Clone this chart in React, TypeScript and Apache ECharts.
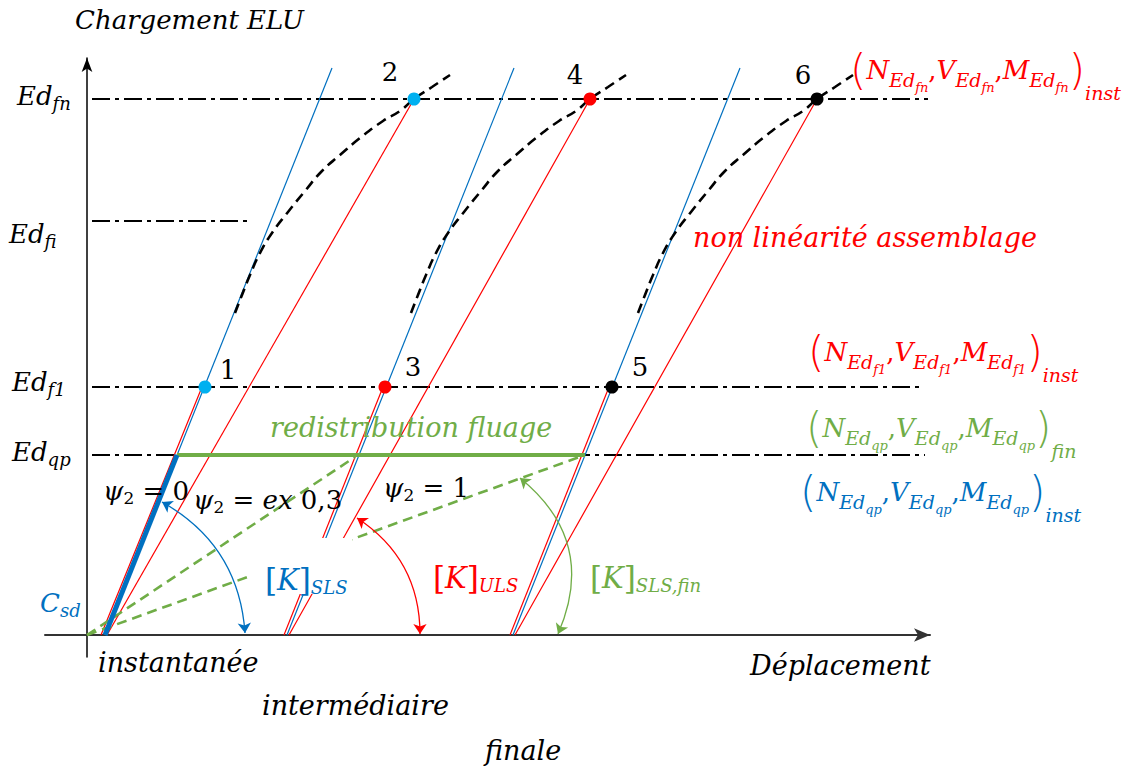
import React, { useEffect, useRef } from "react";
import * as echarts from "echarts";

// ---------- data (displacement / load units, origin at the axes crossing) ----------
const levelNames = ["qp", "f1", "fi", "fn"];
const levelValues = [180, 248, 414, 536];
const levelLineStart = [5, 5, 5, 5];
const levelLineEnd = [838, 833, 163, 841];

// stages: instantanée, intermédiaire, finale
const blueStiffLines = [
  [[18, 0], [245, 567]],
  [[200, 0], [427, 567]],
  [[426, 0], [653, 567]],
];
const redParallelLines = [
  [[14, 0], [115, 248]],
  [[197, 0], [296, 248]],
  [[423, 0], [522, 248]],
];
const redSecantLines = [
  [[20, 0], [327, 536]],
  [[202, 0], [503, 536]],
  [[428, 0], [730, 536]],
];
const thickBlueLine = [[18, 0], [90, 180]];
const creepLine = [[90, 180], [498, 180]];
const greenDashA = [[0, 0], [268, 178]];
const greenDashB = [[0, 0], [498, 180]];

const curve1 = [[148, 322], [155, 340], [163, 360], [173, 382], [185, 402], [201, 423], [218, 444], [235, 464], [253, 480], [273, 497], [296, 514], [313, 524], [327, 536], [345, 548], [363, 560]];
const curve2 = [[324, 322], [331, 340], [339, 360], [349, 382], [361, 402], [377, 423], [394, 444], [411, 464], [429, 480], [449, 497], [472, 514], [489, 524], [503, 536], [521, 548], [539, 560]];
const curve3 = [[551, 322], [558, 340], [566, 360], [576, 382], [588, 402], [604, 423], [621, 444], [638, 464], [656, 480], [676, 497], [699, 514], [716, 524], [730, 536], [748, 548], [766, 560]];

const pointNames = ["1", "2", "3", "4", "5", "6"];
const pointX = [118, 327, 298, 503, 525, 730];
const pointY = [248, 536, 248, 536, 248, 536];
const pointColors = ["#00b0f0", "#00b0f0", "#ff0000", "#ff0000", "#000000", "#000000"];
const pointLabelOffsets = [[23, -17], [-24, -27], [28, -20], [-15, -24], [28, -20], [-14, -24]];

const arcSLS = [[75, 133], [158, 2]];
const arcULS = [[270, 117], [333, 1]];
const arcSLSfin = [[433, 157], [471, 1]];

const BLUE = "#0070c0";
const RED = "#ff0000";
const GREEN = "#70ad47";
const SERIF = "DejaVu Serif";

function richFor(color: string) {
  const base = { fill: color, fontFamily: SERIF, verticalAlign: "middle" };
  return {
    i: { ...base, fontSize: 26, fontStyle: "italic" },
    w: { ...base, fontSize: 27, fontStyle: "italic" },
    r: { ...base, fontSize: 26 },
    k: { ...base, fontSize: 29, fontStyle: "italic" },
    b: { ...base, fontSize: 31 },
    s: { ...base, fontSize: 18, fontStyle: "italic", padding: [15, 0, 0, 0] },
    rs: { ...base, fontSize: 17, padding: [14, 0, 0, 0] },
    t: { ...base, fontSize: 19, fontStyle: "italic", padding: [20, 0, 0, 0] },
    tt: { ...base, fontSize: 13, fontStyle: "italic", padding: [34, 0, 0, 0] },
    p: { ...base, fontSize: 42, fontFamily: "DejaVu Sans", fontWeight: "lighter" },
    ti: { ...base, fontSize: 19, fontStyle: "italic", padding: [46, 0, 0, 0] },
  };
}

function tuple(sub: string, tail: string) {
  return `{p|(}{i|N}{t|Ed}{tt|${sub}}{r|,}{i|V}{t|Ed}{tt|${sub}}{r|,}{i|M}{t|Ed}{tt|${sub}}{p|)}{ti|${tail}}`;
}

type T = { x: number; y: number; text: string; color: string };
const texts: T[] = [
  { x: 75, y: 20, text: "{i|Chargement ELU}", color: "#000" },
  { x: 17, y: 96, text: "{i|Ed}{s|fn}", color: "#000" },
  { x: 9, y: 234, text: "{i|Ed}{s|fi}", color: "#000" },
  { x: 12, y: 382, text: "{i|Ed}{s|f1}", color: "#000" },
  { x: 12, y: 452, text: "{i|Ed}{s|qp}", color: "#000" },
  { x: 850, y: 70, text: tuple("fn", "inst"), color: RED },
  { x: 808, y: 352, text: tuple("f1", "inst"), color: RED },
  { x: 806, y: 428, text: tuple("qp", "fin"), color: GREEN },
  { x: 800, y: 492, text: tuple("qp", "inst"), color: BLUE },
  { x: 693, y: 237, text: "{w|non linéarité assemblage}", color: RED },
  { x: 270, y: 427, text: "{w|redistribution fluage}", color: GREEN },
  { x: 103, y: 491, text: "{i|ψ}{rs|2}{r| = 0}", color: "#000" },
  { x: 193, y: 500, text: "{i|ψ}{rs|2}{r| = }{i|ex}{r| 0,3}", color: "#000" },
  { x: 383, y: 488, text: "{i|ψ}{rs|2}{r| = 1}", color: "#000" },
  { x: 265, y: 580, text: "{b|[}{k|K}{b|]}{s|SLS}", color: BLUE },
  { x: 433, y: 578, text: "{b|[}{k|K}{b|]}{s|ULS}", color: RED },
  { x: 590, y: 578, text: "{b|[}{k|K}{b|]}{s|SLS,fin}", color: GREEN },
  { x: 40, y: 603, text: "{i|C}{s|sd}", color: BLUE },
  { x: 98, y: 662, text: "{w|instantanée}", color: "#000" },
  { x: 262, y: 705, text: "{w|intermédiaire}", color: "#000" },
  { x: 485, y: 750, text: "{w|finale}", color: "#000" },
  { x: 750, y: 665, text: "{w|Déplacement}", color: "#000" },
];

function seg(data: number[][], color: string, width: number, type: any, z = 2, smooth: any = false) {
  return {
    type: "line",
    data,
    symbol: "none",
    smooth,
    silent: true,
    z,
    lineStyle: { color, width, type },
  };
}

export default function App() {
  const ref = useRef<HTMLDivElement>(null);
  useEffect(() => {
    document.body.style.margin = "0";
    const chart = echarts.init(ref.current!, null, { renderer: "svg" });
    const series: any[] = [];
    const dashDot = [18, 5, 4, 5];
    levelValues.forEach((v, i) => {
      series.push(seg([[levelLineStart[i], v], [levelLineEnd[i], v]], "#000", 2, dashDot, 1));
    });
    redParallelLines.forEach((l) => series.push(seg(l, RED, 1.2, "solid", 2)));
    blueStiffLines.forEach((l) => series.push(seg(l, BLUE, 1.2, "solid", 3)));
    redSecantLines.forEach((l) => series.push(seg(l, RED, 1.2, "solid", 2)));
    [curve1, curve2, curve3].forEach((c) => series.push(seg(c, "#000", 2.6, [10, 6], 3, 0.5)));
    series.push(seg(greenDashA, GREEN, 2.6, [10, 6], 3));
    series.push(seg(greenDashB, GREEN, 2.6, [10, 6], 3));
    series.push(seg(creepLine, GREEN, 4, "solid", 4));
    series.push(seg(thickBlueLine, BLUE, 5, "solid", 4));
    series.push({
      type: "lines",
      coordinateSystem: "cartesian2d",
      symbol: ["arrow", "arrow"],
      symbolSize: 10,
      silent: true,
      z: 5,
      data: [
        { coords: arcSLS, lineStyle: { color: BLUE, width: 1.3, opacity: 1, curveness: 0.27 } },
        { coords: arcULS, lineStyle: { color: RED, width: 1.3, opacity: 1, curveness: 0.27 } },
        { coords: arcSLSfin, lineStyle: { color: GREEN, width: 1.3, opacity: 1, curveness: 0.38 } },
      ],
    });
    series.push({
      type: "scatter",
      symbolSize: 13,
      z: 6,
      silent: true,
      data: pointNames.map((n, i) => ({
        name: n,
        value: [pointX[i], pointY[i]],
        itemStyle: { color: pointColors[i], opacity: 1 },
        label: { offset: pointLabelOffsets[i] },
      })),
      label: {
        show: true,
        position: "inside",
        formatter: "{b}",
        color: "#000",
        fontSize: 26,
        fontFamily: SERIF,
      },
    });

    const graphic: any[] = [
      { type: "rect", z: 40, shape: { x: 252, y: 538, width: 100, height: 56 }, style: { fill: "#fff" } },
      ...texts.map((t) => ({
        type: "text",
        z: 50,
        x: t.x,
        y: t.y,
        style: { text: t.text, rich: richFor(t.color), align: "left", verticalAlign: "middle" },
      })),
    ];

    chart.setOption({
      animation: false,
      backgroundColor: "#fff",
      grid: { left: 45, right: 206, top: 58, bottom: 110 },
      xAxis: {
        type: "value",
        min: -42,
        max: 843,
        splitLine: { show: false },
        axisTick: { show: false },
        axisLabel: { show: false },
        axisLine: { onZero: true, symbol: ["none", "arrow"], symbolSize: [10, 16], lineStyle: { color: "#333", width: 2 } },
      },
      yAxis: {
        type: "value",
        min: -22,
        max: 577,
        splitLine: { show: false },
        axisTick: { show: false },
        axisLabel: { show: false },
        axisLine: { onZero: true, symbol: ["none", "arrow"], symbolSize: [8, 14], lineStyle: { color: "#000", width: 1.5 } },
      },
      series,
      graphic,
    });
    return () => chart.dispose();
  }, []);
  return <div ref={ref} style={{ width: 1136, height: 767 }} />;
}
